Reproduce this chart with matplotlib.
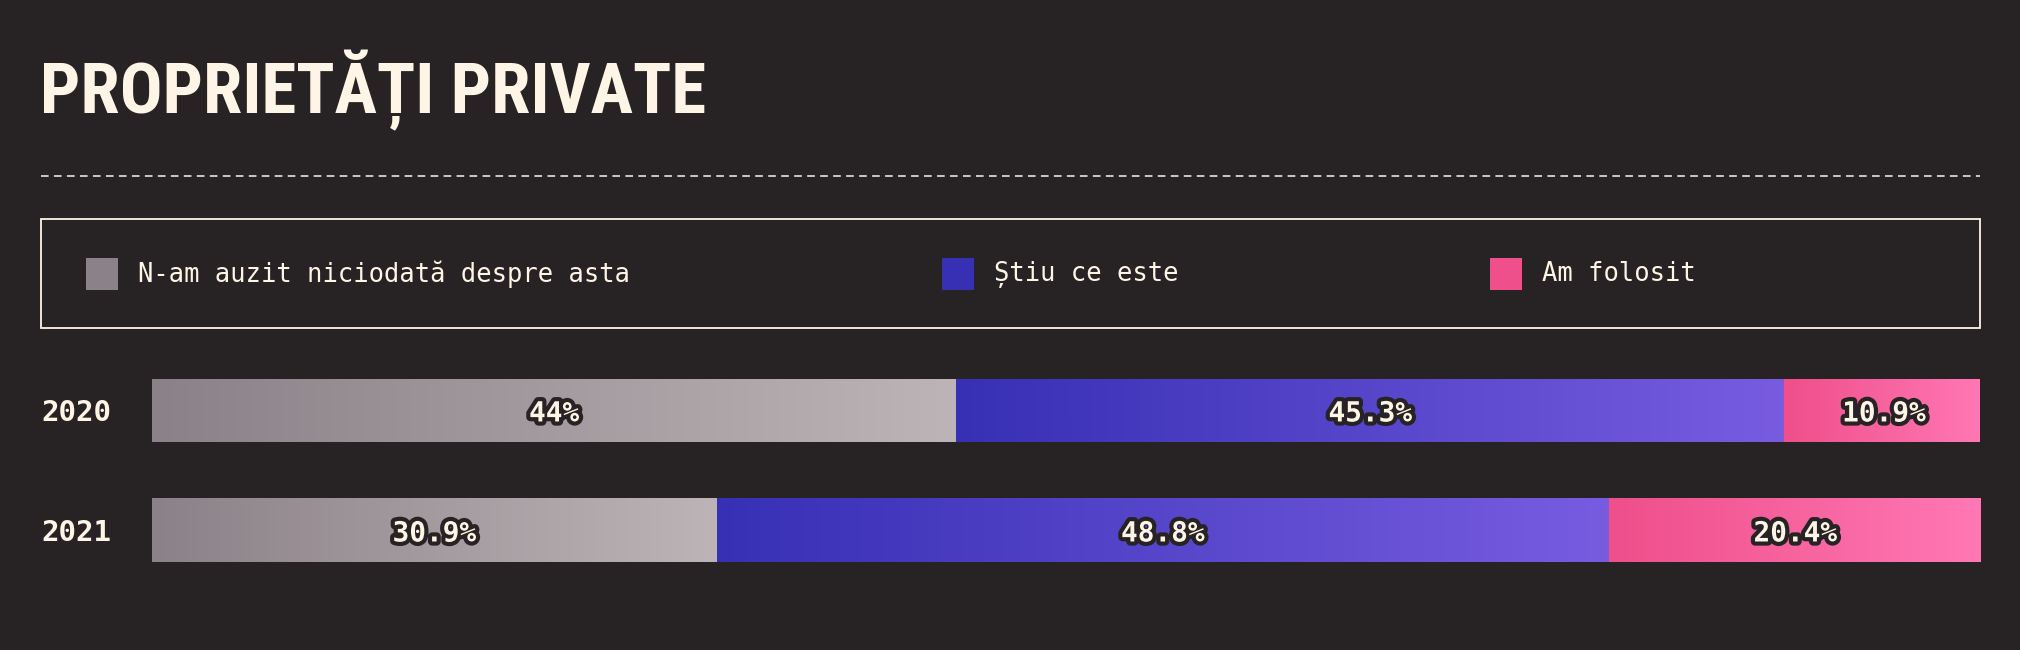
import numpy as np
import matplotlib.pyplot as plt
import matplotlib.patheffects as pe
from matplotlib.patches import Rectangle
from matplotlib.lines import Line2D
from matplotlib.colors import LinearSegmentedColormap

# data
years = ["2020", "2021"]
categories = ["N-am auzit niciodată despre asta", "Știu ce este", "Am folosit"]
values = {
    "N-am auzit niciodată despre asta": [44.0, 30.9],
    "Știu ce este": [45.3, 48.8],
    "Am folosit": [10.9, 20.4],
}
labels = {
    "N-am auzit niciodată despre asta": ["44%", "30.9%"],
    "Știu ce este": ["45.3%", "48.8%"],
    "Am folosit": ["10.9%", "20.4%"],
}
title = "PROPRIETĂȚI PRIVATE"

BG = "#272325"
CREAM = "#fff5e6"
grad = {
    "N-am auzit niciodată despre asta": ("#8b8188", "#bdb4b7"),
    "Știu ce este": ("#3730b5", "#775ce0"),
    "Am folosit": ("#ef4f8a", "#ff78b5"),
}
MONO = ["DejaVu Sans Mono"]
TITLE_FONTS = ["Roboto Condensed", "Noto Sans Condensed", "Liberation Sans Narrow",
               "Noto Sans", "DejaVu Sans"]

W, H = 2020, 650
fig = plt.figure(figsize=(W / 100, H / 100), dpi=100, facecolor=BG)


def fx(px):
    return px / W


def fy(py):
    return 1 - py / H


# title
fig.text(fx(40), fy(113), title, color=CREAM, fontsize=51, fontweight="heavy",
         family=TITLE_FONTS, fontstretch="condensed",
         va="baseline", ha="left")

# dashed separator
fig.add_artist(Line2D([fx(41), fx(1980)], [fy(176), fy(176)], color=CREAM,
                      lw=1.1, dashes=(5, 3.5), transform=fig.transFigure))

# legend box
fig.add_artist(Rectangle((fx(41), fy(328)), fx(1980) - fx(41), fy(219) - fy(328),
                         fill=False, edgecolor=CREAM, lw=1.3, transform=fig.transFigure))
leg_x = [86, 942, 1490]
for cat, x0 in zip(categories, leg_x):
    fig.add_artist(Rectangle((fx(x0), fy(290)), fx(32), 32 / H, facecolor=grad[cat][0],
                             edgecolor="none", transform=fig.transFigure))
    fig.text(fx(x0 + 52), fy(274), cat, color=CREAM, fontsize=18.4, family=MONO,
             va="center", ha="left")

# bars
ax = fig.add_axes([fx(152), 1 - 590 / H, fx(1980) - fx(152), 240 / H])
ax.set_facecolor(BG)
y = np.arange(len(years))
bh = 63 / 120
left = np.zeros(len(years))
for cat in categories:
    vals = np.array(values[cat])
    bars = ax.barh(y, vals, left=left, height=bh, color=grad[cat][0], edgecolor="none")
    cmap = LinearSegmentedColormap.from_list(cat, grad[cat])
    for b, lab in zip(bars, labels[cat]):
        x0, y0, w, h = b.get_x(), b.get_y(), b.get_width(), b.get_height()
        ax.imshow(np.linspace(0, 1, 256).reshape(1, -1), cmap=cmap, aspect="auto",
                  extent=[x0, x0 + w, y0 + h, y0], zorder=2, interpolation="bilinear")
        ax.text(x0 + w / 2, y0 + h / 2, lab, ha="center", va="center_baseline", color=CREAM,
                fontsize=20, fontweight="bold", family=MONO, zorder=3,
                path_effects=[pe.withStroke(linewidth=6, foreground=BG)])
    left = left + vals

ax.set_xlim(0, 100)
ax.set_ylim(1.496, -0.504)
ax.set_yticks(y)
ax.set_yticklabels(years, fontsize=21, fontweight="bold", family=MONO, color=CREAM, ha="left")
ax.tick_params(axis="y", length=0, pad=(152 - 41) * 0.72)
ax.set_xticks([])
for s in ax.spines.values():
    s.set_visible(False)

fig.savefig("out.png", dpi=100, facecolor=BG)
